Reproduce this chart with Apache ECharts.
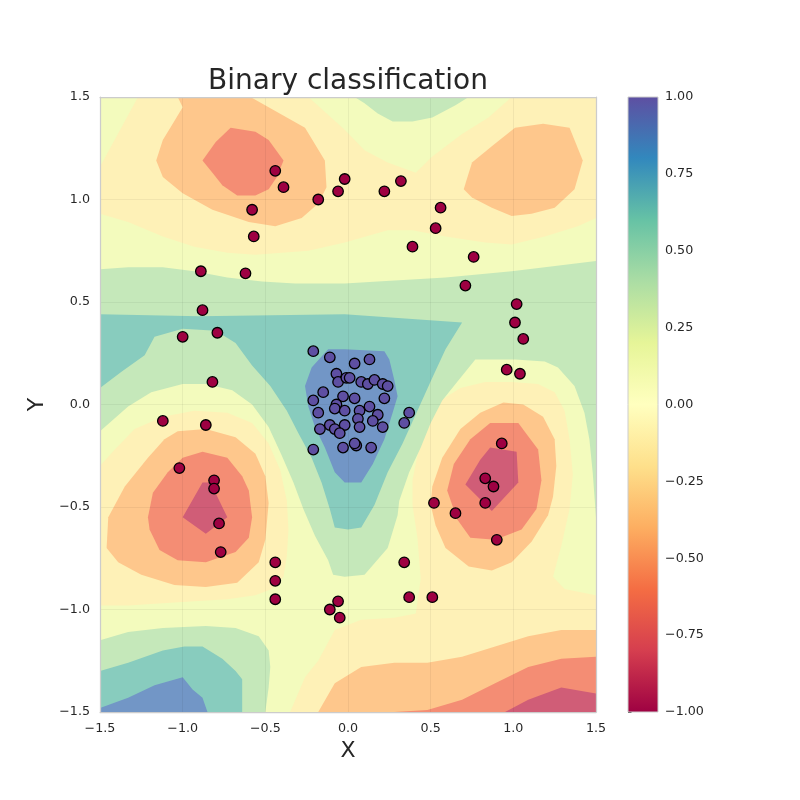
<!DOCTYPE html>
<html>
<head>
<meta charset="utf-8">
<script src="https://cdn.jsdelivr.net/npm/echarts@6/dist/echarts.min.js"></script>
<style>
html, body { margin: 0; background: #fff; }
#chart { width: 800px; height: 800px; }
</style>
</head>
<body>
<div id="chart"></div>
<script>
// training points
const redPoints = [
    [-0.44, 1.14], [-0.39, 1.06], [-0.58, 0.95], [-0.57, 0.82], [-0.18, 1.00], [-0.06, 1.04],
    [-0.02, 1.10], [0.22, 1.04], [0.32, 1.09], [0.56, 0.96], [0.53, 0.86], [0.39, 0.77],
    [0.76, 0.72], [0.71, 0.58], [1.02, 0.49], [1.01, 0.40], [1.06, 0.32], [0.96, 0.17],
    [1.04, 0.15], [-0.89, 0.65], [-0.62, 0.64], [-0.88, 0.46], [-0.79, 0.35], [-1.00, 0.33],
    [-0.82, 0.11], [-1.12, -0.08], [-0.86, -0.10], [-1.02, -0.31], [-0.81, -0.37], [-0.81, -0.41],
    [-0.78, -0.58], [-0.77, -0.72], [-0.44, -0.77], [-0.44, -0.86], [-0.44, -0.95], [-0.11, -1.00],
    [-0.06, -0.96], [-0.05, -1.04], [0.34, -0.77], [0.37, -0.94], [0.51, -0.94], [0.52, -0.48],
    [0.65, -0.53], [0.90, -0.66], [0.83, -0.48], [0.83, -0.36], [0.88, -0.40], [0.93, -0.19]
];
const bluePoints = [
    [-0.21, 0.26], [-0.11, 0.23], [-0.07, 0.15], [-0.06, 0.11], [-0.01, 0.13], [0.04, 0.20],
    [0.13, 0.22], [0.01, 0.13], [0.08, 0.11], [0.12, 0.10], [0.16, 0.12], [0.21, 0.10],
    [0.24, 0.09], [-0.15, 0.06], [-0.21, 0.02], [-0.03, 0.04], [0.22, 0.03], [0.04, 0.03],
    [-0.07, 0.00], [-0.08, -0.02], [-0.02, -0.03], [-0.18, -0.04], [0.07, -0.03], [0.13, -0.01],
    [0.18, -0.05], [0.06, -0.07], [0.15, -0.08], [0.21, -0.11], [0.07, -0.11], [-0.02, -0.10],
    [-0.11, -0.10], [-0.17, -0.12], [-0.08, -0.12], [-0.05, -0.14], [0.37, -0.04], [0.34, -0.09],
    [-0.21, -0.22], [-0.03, -0.21], [0.05, -0.20], [0.14, -0.21], [0.04, -0.19]
];

// contour regions of the decision function (data units)
// band index: 0 <-0.75, 1 -0.75..-0.5, 2 -0.5..-0.25, 3 -0.25..0, 4 0..0.25, 5 0.25..0.5, 6 0.5..0.75, 7 >0.75
const plotFrame = [[-1.5, -1.5], [1.5, -1.5], [1.5, 1.5], [-1.5, 1.5]];
const negTop = [[-1.27, 1.5], [-0.24, 1.5], [-0.02, 1.34], [0.10, 1.24], [0.24, 1.18], [0.41, 1.13], [0.51, 1.21],
    [0.69, 1.32], [0.85, 1.40], [0.99, 1.5], [1.5, 1.5], [1.5, 0.91], [1.39, 0.87], [1.19, 0.82], [0.99, 0.78],
    [0.83, 0.79], [0.59, 0.82], [0.39, 0.85], [0.24, 0.85], [-0.02, 0.79], [-0.24, 0.75], [-0.40, 0.74],
    [-0.56, 0.73], [-0.73, 0.74], [-0.93, 0.77], [-1.12, 0.82], [-1.33, 0.89], [-1.5, 0.93], [-1.5, 1.16]];
const negLeft = [[-1.5, -0.30], [-1.41, -0.22], [-1.29, -0.12], [-1.12, -0.06], [-0.93, -0.03], [-0.73, -0.04],
    [-0.58, -0.09], [-0.48, -0.19], [-0.41, -0.32], [-0.37, -0.47], [-0.36, -0.61], [-0.37, -0.74], [-0.39, -0.84],
    [-0.46, -0.90], [-0.56, -0.93], [-0.73, -0.95], [-0.93, -0.96], [-1.12, -0.97], [-1.33, -0.98], [-1.5, -0.98]];
const negRight = [[0.50, -0.08], [0.56, 0.02], [0.68, 0.08], [0.83, 0.11], [0.99, 0.11], [1.15, 0.10], [1.25, 0.06],
    [1.31, -0.03], [1.34, -0.17], [1.36, -0.34], [1.34, -0.51], [1.29, -0.69], [1.24, -0.84], [1.31, -0.90],
    [1.5, -0.93], [1.5, -1.5], [-0.35, -1.5], [-0.26, -1.33], [-0.18, -1.25], [-0.08, -1.10], [0.08, -1.05],
    [0.28, -1.04], [0.41, -1.02], [0.44, -0.85], [0.42, -0.65], [0.39, -0.49], [0.39, -0.37], [0.42, -0.25], [0.45, -0.13]];
const orangeTopLeft = [[-1.03, 1.5], [-0.59, 1.5], [-0.26, 1.35], [-0.14, 1.19], [-0.13, 1.06], [-0.18, 0.98],
    [-0.28, 0.91], [-0.44, 0.87], [-0.60, 0.89], [-0.82, 0.95], [-1.00, 1.03], [-1.12, 1.11], [-1.16, 1.19],
    [-1.12, 1.29], [-1.06, 1.37], [-1.00, 1.45]];
const orangeTopRight = [[1.01, 1.35], [1.18, 1.37], [1.34, 1.35], [1.42, 1.19], [1.37, 1.05], [1.25, 0.96],
    [1.11, 0.93], [0.99, 0.92], [0.87, 0.96], [0.75, 1.01], [0.70, 1.05], [0.75, 1.18], [0.87, 1.26]];
const orangeLeft = [[-1.03, -0.13], [-0.86, -0.12], [-0.68, -0.16], [-0.56, -0.24], [-0.50, -0.35], [-0.48, -0.48],
    [-0.50, -0.66], [-0.54, -0.77], [-0.67, -0.87], [-0.86, -0.89], [-1.05, -0.88], [-1.25, -0.83], [-1.39, -0.77],
    [-1.46, -0.70], [-1.45, -0.55], [-1.35, -0.40], [-1.21, -0.26], [-1.11, -0.17]];
const orangeRight = [[0.94, 0.01], [1.06, 0.0], [1.18, -0.06], [1.25, -0.17], [1.26, -0.30], [1.24, -0.45],
    [1.21, -0.54], [1.11, -0.67], [0.99, -0.77], [0.87, -0.81], [0.73, -0.79], [0.59, -0.70], [0.53, -0.59],
    [0.50, -0.49], [0.51, -0.40], [0.57, -0.26], [0.68, -0.12], [0.80, -0.04]];
const orangeBottom = [[-0.18, -1.5], [-0.08, -1.36], [0.08, -1.28], [0.28, -1.26], [0.48, -1.26], [0.69, -1.23],
    [0.89, -1.18], [1.09, -1.13], [1.29, -1.10], [1.5, -1.10], [1.5, -1.5]];
const salmonTopLeft = [[-0.71, 1.35], [-0.56, 1.33], [-0.48, 1.29], [-0.39, 1.19], [-0.43, 1.11], [-0.48, 1.05],
    [-0.56, 1.02], [-0.67, 1.02], [-0.76, 1.07], [-0.82, 1.13], [-0.88, 1.19], [-0.80, 1.28]];
const salmonLeft = [[-0.88, -0.23], [-0.73, -0.26], [-0.64, -0.35], [-0.60, -0.42], [-0.58, -0.55], [-0.60, -0.65],
    [-0.68, -0.72], [-0.86, -0.77], [-1.03, -0.76], [-1.14, -0.71], [-1.20, -0.61], [-1.21, -0.55], [-1.18, -0.43],
    [-1.09, -0.33], [-1.00, -0.26]];
const salmonRight = [[0.86, -0.09], [1.03, -0.09], [1.15, -0.22], [1.17, -0.37], [1.14, -0.51], [1.05, -0.61],
    [0.89, -0.66], [0.74, -0.65], [0.66, -0.56], [0.60, -0.42], [0.64, -0.29], [0.74, -0.17]];
const salmonBottom = [[0.28, -1.5], [0.48, -1.49], [0.69, -1.44], [0.89, -1.36], [1.09, -1.28], [1.29, -1.24],
    [1.5, -1.23], [1.5, -1.5]];
const redLeft = [[-0.88, -0.38], [-0.83, -0.38], [-0.79, -0.45], [-0.73, -0.55], [-0.86, -0.63], [-1.00, -0.55]];
const redRight = [[0.86, -0.21], [1.02, -0.23], [1.03, -0.38], [0.87, -0.52], [0.71, -0.39], [0.80, -0.27]];
const redBottom = [[0.95, -1.5], [1.09, -1.44], [1.29, -1.38], [1.5, -1.41], [1.5, -1.5]];
const greenTop = [[0.04, 1.5], [0.10, 1.47], [0.18, 1.42], [0.27, 1.38], [0.39, 1.38], [0.51, 1.40], [0.65, 1.46], [0.73, 1.5]];
const greenMid = [[-1.5, 0.66], [-1.33, 0.67], [-1.12, 0.67], [-0.93, 0.65], [-0.73, 0.62], [-0.52, 0.60],
    [-0.32, 0.59], [-0.02, 0.59], [0.18, 0.60], [0.59, 0.62], [0.99, 0.65], [1.19, 0.67], [1.5, 0.70],
    [1.5, -0.55], [1.48, -0.33], [1.46, -0.17], [1.43, -0.04], [1.37, 0.09], [1.27, 0.18], [1.19, 0.21],
    [1.01, 0.22], [0.77, 0.22], [0.65, 0.10], [0.57, 0.02], [0.50, -0.09], [0.44, -0.21], [0.37, -0.33],
    [0.31, -0.47], [0.30, -0.54], [0.24, -0.70], [0.10, -0.83], [-0.02, -0.84], [-0.09, -0.83], [-0.12, -0.76],
    [-0.20, -0.64], [-0.27, -0.51], [-0.33, -0.38], [-0.40, -0.25], [-0.48, -0.11], [-0.58, 0.0], [-0.70, 0.07],
    [-0.86, 0.10], [-1.00, 0.10], [-1.19, 0.06], [-1.33, -0.01], [-1.5, -0.13]];
const greenBottom = [[-1.5, -1.15], [-1.33, -1.11], [-1.12, -1.09], [-0.86, -1.08], [-0.68, -1.09], [-0.54, -1.13],
    [-0.48, -1.20], [-0.47, -1.28], [-0.48, -1.38], [-0.50, -1.5], [-1.5, -1.5]];
const tealMid = [[-1.5, 0.44], [-0.90, 0.43], [-0.02, 0.44], [0.69, 0.40], [0.59, 0.27], [0.51, 0.13], [0.42, -0.03],
    [0.33, -0.19], [0.24, -0.33], [0.18, -0.45], [0.16, -0.49], [0.08, -0.60], [0.0, -0.61], [-0.08, -0.60],
    [-0.11, -0.51], [-0.16, -0.38], [-0.22, -0.26], [-0.30, -0.14], [-0.37, -0.03], [-0.47, 0.09], [-0.58, 0.19],
    [-0.68, 0.30], [-0.80, 0.36], [-1.00, 0.37], [-1.17, 0.33], [-1.23, 0.24], [-1.37, 0.16], [-1.5, 0.08]];
const tealBottom = [[-1.5, -1.30], [-1.33, -1.26], [-1.12, -1.20], [-0.99, -1.18], [-0.88, -1.18], [-0.76, -1.24],
    [-0.68, -1.30], [-0.64, -1.34], [-0.64, -1.5], [-1.5, -1.5]];
const blueMid = [[-0.12, 0.27], [-0.02, 0.27], [0.22, 0.26], [0.25, 0.22], [0.28, 0.12], [0.30, 0.04], [0.27, -0.04],
    [0.22, -0.17], [0.15, -0.29], [0.08, -0.38], [-0.02, -0.38], [-0.08, -0.33], [-0.14, -0.21], [-0.20, -0.11],
    [-0.24, -0.01], [-0.26, 0.09], [-0.22, 0.18]];
const blueBottom = [[-1.5, -1.48], [-1.33, -1.43], [-1.17, -1.37], [-1.00, -1.33], [-0.94, -1.39], [-0.88, -1.43],
    [-0.85, -1.5], [-1.5, -1.5]];

// painting order: [band, region]
const contourLayers = [
    [4, plotFrame],
    [3, negTop], [3, negLeft], [3, negRight],
    [2, orangeTopLeft], [2, orangeTopRight], [2, orangeLeft], [2, orangeRight], [2, orangeBottom],
    [1, salmonTopLeft], [1, salmonLeft], [1, salmonRight], [1, salmonBottom],
    [0, redLeft], [0, redRight], [0, redBottom],
    [5, greenTop], [5, greenMid], [5, greenBottom],
    [6, tealMid], [6, tealBottom],
    [7, blueMid], [7, blueBottom]
];

const cbarTicks = [-1, -0.75, -0.5, -0.25, 0, 0.25, 0.5, 0.75, 1];

// Spectral colours, band fills are the colormap at alpha 0.75 over white
const spectral = ['#9e0142', '#d53e4f', '#f46d43', '#fdae61', '#fee08b', '#ffffbf',
    '#e6f598', '#abdda4', '#66c2a5', '#3288bd', '#5e4fa2'];
const bandColors = ['rgb(208,93,119)', 'rgb(244,141,116)', 'rgb(254,199,140)', 'rgb(254,241,183)',
    'rgb(243,251,189)', 'rgb(197,232,186)', 'rgb(136,204,190)', 'rgb(114,150,198)'];

const textColor = '#262626';
const fontFamily = 'DejaVu Sans';
const signed = (v, d) => (v < 0 ? '\u2212' : '') + Math.abs(v).toFixed(d);

var chartDom = document.getElementById('chart');
var myChart = echarts.init(chartDom);

const spineStyle = { color: '#cccccc', width: 1.25 };

var option = {
    animation: false,
    backgroundColor: '#ffffff',
    title: {
        text: 'Binary classification',
        left: 343,
        top: 63,
        textAlign: 'center',
        textStyle: { fontFamily: fontFamily, fontSize: 28, fontWeight: 'normal', color: textColor }
    },
    grid: [
        { left: 100, top: 97, width: 496, height: 615 },
        { left: 628, top: 97, width: 30, height: 615 }
    ],
    xAxis: [
        {
            gridIndex: 0, type: 'value', min: -1.5, max: 1.5, interval: 0.5, z: 3,
            name: 'X', nameLocation: 'middle', nameGap: 28,
            nameTextStyle: { fontFamily: fontFamily, fontSize: 22, color: textColor },
            axisLine: { show: true, onZero: false, lineStyle: spineStyle },
            axisTick: { show: false },
            axisLabel: { margin: 10, fontFamily: fontFamily, fontSize: 12.7, color: textColor,
                formatter: v => signed(v, 1) },
            splitLine: { show: true, lineStyle: { color: 'rgba(0,0,0,0.05)', width: 1 } }
        },
        {
            gridIndex: 0, type: 'value', position: 'top', min: -1.5, max: 1.5, z: 3,
            axisLine: { show: true, onZero: false, lineStyle: spineStyle },
            axisTick: { show: false }, axisLabel: { show: false }, splitLine: { show: false }
        },
        { gridIndex: 1, type: 'value', min: 0, max: 1, show: false }
    ],
    yAxis: [
        {
            gridIndex: 0, type: 'value', min: -1.5, max: 1.5, interval: 0.5, z: 3,
            name: 'Y', nameLocation: 'middle', nameGap: 40,
            nameTextStyle: { fontFamily: fontFamily, fontSize: 22, color: textColor },
            axisLine: { show: true, onZero: false, lineStyle: spineStyle },
            axisTick: { show: false },
            axisLabel: { margin: 10, fontFamily: fontFamily, fontSize: 12.7, color: textColor,
                formatter: v => signed(v, 1) },
            splitLine: { show: true, lineStyle: { color: 'rgba(0,0,0,0.05)', width: 1 } }
        },
        {
            gridIndex: 0, type: 'value', position: 'right', min: -1.5, max: 1.5, z: 3,
            axisLine: { show: true, onZero: false, lineStyle: spineStyle },
            axisTick: { show: false }, axisLabel: { show: false }, splitLine: { show: false }
        },
        {
            gridIndex: 1, type: 'value', position: 'right',
            min: cbarTicks[0], max: cbarTicks[cbarTicks.length - 1], interval: 0.25,
            axisLine: { show: false },
            axisTick: { show: true, length: 3.5, lineStyle: { color: textColor, width: 1 } },
            axisLabel: { margin: 7, fontFamily: fontFamily, fontSize: 12.7, color: textColor,
                formatter: v => signed(v, 2) },
            splitLine: { show: false }
        }
    ],
    series: [
        {
            name: 'contour',
            type: 'custom',
            xAxisIndex: 0, yAxisIndex: 0,
            z: 1,
            silent: true,
            data: contourLayers.map((l, i) => [0, 0, i]),
            renderItem: function (params, api) {
                const layer = contourLayers[api.value(2)];
                return {
                    type: 'polygon',
                    shape: { points: layer[1].map(p => api.coord(p)) },
                    style: { fill: bandColors[layer[0]], stroke: null }
                };
            }
        },
        {
            name: 'colorbar',
            type: 'custom',
            xAxisIndex: 2, yAxisIndex: 2,
            silent: true,
            data: [[0, cbarTicks[0]]],
            renderItem: function (params, api) {
                const p0 = api.coord([0, cbarTicks[cbarTicks.length - 1]]);
                const p1 = api.coord([1, cbarTicks[0]]);
                const stops = spectral.map((c, k) => ({ offset: 1 - k / (spectral.length - 1), color: c }));
                return {
                    type: 'rect',
                    shape: { x: p0[0], y: p0[1], width: p1[0] - p0[0], height: p1[1] - p0[1] },
                    style: { fill: new echarts.graphic.LinearGradient(0, 0, 0, 1, stops.reverse()),
                        stroke: '#cccccc', lineWidth: 1 }
                };
            }
        },
        {
            name: 'class -1',
            type: 'scatter',
            xAxisIndex: 0, yAxisIndex: 0,
            z: 5,
            symbolSize: 10.5,
            itemStyle: { color: '#9e0142', borderColor: '#000000', borderWidth: 1.3, opacity: 1 },
            data: redPoints
        },
        {
            name: 'class 1',
            type: 'scatter',
            xAxisIndex: 0, yAxisIndex: 0,
            z: 5,
            symbolSize: 10.5,
            itemStyle: { color: '#5e4fa2', borderColor: '#000000', borderWidth: 1.3, opacity: 1 },
            data: bluePoints
        }
    ]
};

option && myChart.setOption(option);
</script>
</body>
</html>
